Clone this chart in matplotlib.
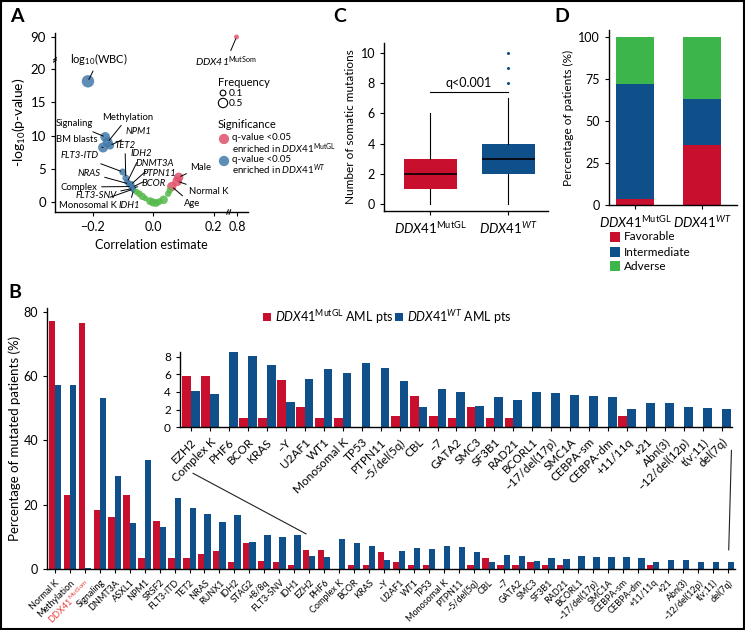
import matplotlib
matplotlib.use("Agg")
import matplotlib.pyplot as plt
from matplotlib.patches import Rectangle, ConnectionPatch
import numpy as np

plt.rcParams['font.family'] = ['Lato', 'DejaVu Sans']
plt.rcParams['mathtext.fontset'] = 'custom'
plt.rcParams['mathtext.rm'] = 'Lato'
plt.rcParams['mathtext.it'] = 'Lato:italic'
plt.rcParams['mathtext.bf'] = 'Lato:bold'
plt.rcParams['axes.linewidth'] = 1.0

RED = "#c8102e"
BLUE = "#10508a"
GREEN = "#3cb54a"
A_RED = "#e0506a"
A_BLUE = "#4379a9"
A_GREEN = "#55b94a"

GL = r"$\mathit{DDX41}^{\mathrm{MutGL}}$"
WT = r"$\mathit{DDX41}^{\mathit{WT}}$"

# ---- panel A data (correlation, -log10 p, frequency, group)
a_names = ["log$_{10}$(WBC)", "Signaling", "Methylation", "BM blasts", "NPM1",
           "FLT3-ITD", "TET2", "IDH2", "NRAS", "DNMT3A", "Complex", "PTPN11",
           "BCOR", "FLT3-SNV", "Monosomal K", "IDH1", "Male", "Normal K", "Age",
           "DDX41$^{\\mathrm{MutSom}}$",
           "", "", "", "", "", "", "", "", "", "", ""]
a_corr = [-0.215, -0.158, -0.150, -0.165, -0.142, -0.100, -0.090, -0.085, -0.080,
          -0.073, -0.072, -0.068, -0.066, -0.068, -0.066, -0.064, 0.085, 0.080,
          0.062, 0.78,
          -0.055, -0.045, -0.035, -0.025, -0.010, 0.0, 0.010, 0.020, 0.035, 0.050, 0.055]
a_logp = [18.2, 9.8, 9.0, 8.2, 8.5, 4.5, 3.6, 3.0, 2.7, 2.6, 2.3, 2.2, 2.1, 2.0,
          1.9, 1.8, 3.7, 3.1, 2.3, 90,
          1.5, 1.2, 0.8, 0.5, 0.1, -0.1, -0.2, 0.0, 0.3, 1.2, 1.7]
a_freq = [1.0, 0.55, 0.6, 0.6, 0.35, 0.22, 0.2, 0.15, 0.15, 0.25, 0.12, 0.05,
          0.08, 0.1, 0.06, 0.1, 0.5, 0.55, 0.5, 0.03,
          0.15, 0.2, 0.25, 0.1, 0.3, 0.35, 0.3, 0.2, 0.4, 0.15, 0.15]
a_group = ["wt"] * 16 + ["gl"] * 4 + ["ns"] * 11
a_italic = ["NPM1", "TET2", "IDH2", "FLT3-ITD", "DNMT3A", "NRAS", "PTPN11",
            "BCOR", "FLT3-SNV", "IDH1"]

# ---- panel B data
b_cats = ["Normal K", "Methylation", "DDX41$^{\\mathrm{MutSom}}$", "Signaling", "DNMT3A",
          "ASXL1", "NPM1", "SRSF2", "FLT3-ITD", "TET2", "NRAS", "RUNX1", "IDH2",
          "STAG2", "+8/8q", "FLT3-SNV", "IDH1", "EZH2", "PHF6", "Complex K", "BCOR",
          "KRAS", "–Y", "U2AF1", "WT1", "TP53", "Monosomal K", "PTPN11",
          "–5/del(5q)", "CBL", "–7", "GATA2", "SMC3", "SF3B1", "RAD21", "BCORL1",
          "–17/del(17p)", "SMC1A", "CEBPA-sm", "CEBPA-dm", "+11/11q", "+21",
          "Abn(3)", "–12/del(12p)", "t(v;11)", "del(7q)"]
gl_pct = [77.2, 23.1, 76.6, 18.4, 16.1, 23.1, 3.4, 15.0, 3.4, 3.4, 4.6, 5.7, 2.3,
          8.1, 2.6, 2.3, 1.1,
          5.85, 5.85, 0, 1.1, 1.1, 5.3, 2.3, 1.1, 1.1, 0, 0, 1.3, 3.5, 1.3, 1.1,
          2.3, 1.1, 1.1, 0, 0, 0, 0, 0, 1.3, 0, 0, 0, 0, 0]
wt_pct = [57.2, 57.2, 0.3, 53.3, 29.0, 14.3, 34.0, 13.0, 22.0, 19.0, 17.1, 14.7,
          16.8, 8.5, 10.6, 10.1, 10.6,
          4.1, 3.8, 9.4, 8.1, 7.1, 2.9, 5.5, 6.6, 6.1, 7.3, 6.7, 5.2, 2.3, 4.3,
          4.0, 2.4, 3.4, 3.1, 4.0, 3.85, 3.7, 3.6, 3.45, 2.1, 2.8, 2.75, 2.3,
          2.15, 2.1]
inset_start = 17
inset_labels = ["EZH2", "Complex K", "PHF6", "BCOR", "KRAS", "–Y", "U2AF1", "WT1",
                "Monosomal K", "TP53", "PTPN11", "–5/del(5q)", "CBL", "–7", "GATA2",
                "SMC3", "SF3B1", "RAD21", "BCORL1", "–17/del(17p)", "SMC1A",
                "CEBPA-sm", "CEBPA-dm", "+11/11q", "+21", "Abn(3)", "–12/del(12p)",
                "t(v;11)", "del(7q)"]

# ---- panel C data (box stats)
c_groups = [GL, WT]
c_q1 = [1, 2]
c_med = [2, 3]
c_q3 = [3, 4]
c_lo = [0, 0]
c_hi = [6, 7]
c_fliers = [[], [8, 9, 10, 11]]

# ---- panel D data
d_groups = [GL, WT]
d_favorable = [3.5, 35.5]
d_intermediate = [68.5, 27.5]
d_adverse = [28.0, 37.0]

W, H = 745, 630
fig = plt.figure(figsize=(7.45, 6.3), dpi=100)


def box(l, t, r, b):
    return [l / W, 1 - b / H, (r - l) / W, (b - t) / H]


# overlay in pixel coordinates for free text
ov = fig.add_axes([0, 0, 1, 1], zorder=10)
ov.set_xlim(0, W)
ov.set_ylim(H, 0)
ov.axis("off")


def fx(v):
    return v if v < 0.5 else 0.278 + (v - 0.8) * 0.1


def fy(v):
    return v if v < 30 else 24.9 + (v - 90) * 0.05


# ================= A
axA = fig.add_axes(box(55, 33, 248, 212))
cols = {"wt": A_BLUE, "gl": A_RED, "ns": A_GREEN}
xs = [fx(v) for v in a_corr]
ys = [fy(v) for v in a_logp]
sizes = [10 + 70 * f for f in a_freq]
axA.scatter(xs, ys, s=sizes, c=[cols[g] for g in a_group], alpha=0.85,
            edgecolors="none", zorder=3)
axA.set_xlim(-0.324, 0.314)
axA.set_ylim(-1.55, 25.5)
axA.set_xticks([fx(v) for v in [-0.2, 0.0, 0.2, 0.8]])
axA.set_xticklabels(["−0.2", "0.0", "0.2", "0.8"], fontsize=9)
axA.set_yticks([fy(v) for v in [0, 5, 10, 15, 20, 90]])
axA.set_yticklabels(["0", "5", "10", "15", "20", "90"], fontsize=9.5)
axA.spines["top"].set_visible(False)
axA.spines["right"].set_visible(False)
axA.tick_params(length=3)
axA.set_xlabel("Correlation estimate", fontsize=9, labelpad=4)
axA.set_ylabel("-log$_{10}$(p-value)", fontsize=10, labelpad=2)
# axis breaks
for d in (-0.006, 0.006):
    axA.plot([-0.007, 0.007], [0.85 + d - 0.006, 0.85 + d + 0.006],
             transform=axA.transAxes, color="black", lw=0.8, clip_on=False)
    axA.plot([0.90 + d - 0.004, 0.90 + d + 0.004], [-0.012, 0.012],
             transform=axA.transAxes, color="black", lw=0.8, clip_on=False)

a_text_pos = {
    "log$_{10}$(WBC)": (99, 59), "Signaling": (74, 124), "Methylation": (128, 117),
    "BM blasts": (77, 140), "NPM1": (138, 132), "FLT3-ITD": (80, 156),
    "TET2": (125, 145), "IDH2": (141, 154), "NRAS": (89, 173), "DNMT3A": (155, 163),
    "Complex": (79, 187), "PTPN11": (159, 174), "BCOR": (154, 183),
    "FLT3-SNV": (96, 196), "Monosomal K": (88, 205), "IDH1": (129, 206),
    "Male": (201, 167), "Normal K": (209, 192), "Age": (192, 204),
    "DDX41$^{\\mathrm{MutSom}}$": (226, 62),
}
for i, name in enumerate(a_names):
    if not name:
        continue
    tx, ty = a_text_pos[name]
    if name.startswith("log"):
        fs = 8
    elif name.startswith("DDX41"):
        fs = 7.5
    else:
        fs = 6.8
    style = "italic" if (name in a_italic or name.startswith("DDX41")) else "normal"
    axA.annotate(name, xy=(xs[i], ys[i]), xycoords="data", xytext=(tx, ty),
                 textcoords=ov.transData, ha="center", va="center", fontsize=fs,
                 fontstyle=style,
                 arrowprops=dict(arrowstyle="-", lw=0.7, color="black",
                                 shrinkA=1, shrinkB=1.5))

# legend A
ov.text(218, 83, "Frequency", fontsize=8, va="center")
ov.scatter([223, 223], [93, 103], s=[10 + 70 * 0.1, 10 + 70 * 0.5],
           facecolors="none", edgecolors="black", linewidths=0.8)
ov.text(229, 93, "0.1", fontsize=7.5, va="center")
ov.text(229, 103, "0.5", fontsize=7.5, va="center")
ov.text(218, 125, "Significance", fontsize=8, va="center")
ov.scatter([224, 224], [139, 161], s=55, c=[A_RED, A_BLUE], edgecolors="none", alpha=0.85)
ov.text(232, 138, "q-value <0.05", fontsize=7, va="center")
ov.text(232, 148.5, "enriched in " + GL, fontsize=7, va="center")
ov.text(232, 159.5, "q-value <0.05", fontsize=7, va="center")
ov.text(232, 170, "enriched in " + WT, fontsize=7, va="center")

# ================= C
axC = fig.add_axes(box(384, 43, 548, 211))
stats = []
for i in range(2):
    stats.append(dict(med=c_med[i], q1=c_q1[i], q3=c_q3[i], whislo=c_lo[i],
                      whishi=c_hi[i], fliers=c_fliers[i]))
bp = axC.bxp(stats, positions=[0, 1], widths=0.68, patch_artist=True,
             showcaps=False,
             boxprops=dict(lw=0),
             medianprops=dict(color="black", lw=1.2),
             whiskerprops=dict(color="black", lw=0.8),
             flierprops=dict(marker="o", markersize=2.2, markerfacecolor=BLUE,
                             markeredgecolor="none"))
for patch, col in zip(bp["boxes"], [RED, BLUE]):
    patch.set_facecolor(col)
axC.set_xlim(-0.59, 1.51)
axC.set_ylim(-0.46, 10.66)
axC.set_yticks([0, 2, 4, 6, 8, 10])
axC.set_xticks([0, 1])
axC.set_xticklabels(c_groups, fontsize=9.5)
axC.tick_params(axis="y", labelsize=9, length=3)
axC.tick_params(axis="x", length=3)
axC.spines["top"].set_visible(False)
axC.spines["right"].set_visible(False)
axC.set_ylabel("Number of somatic mutations", fontsize=8.5, labelpad=3)
axC.plot([0, 1], [7.4, 7.4], color="black", lw=0.8)
axC.text(0.5, 7.6, "q<0.001", ha="center", va="bottom", fontsize=9)

# ================= D
axD = fig.add_axes(box(609, 30, 737, 205))
xd = np.arange(len(d_groups))
fav = np.array(d_favorable)
inter = np.array(d_intermediate)
adv = np.array(d_adverse)
axD.bar(xd, fav, width=0.567, color=RED)
axD.bar(xd, inter, width=0.567, bottom=fav, color=BLUE)
axD.bar(xd, adv, width=0.567, bottom=fav + inter, color=GREEN)
axD.set_xlim(-0.39, 1.52)
axD.set_ylim(0, 104.2)
axD.set_yticks([0, 25, 50, 75, 100])
axD.set_xticks(xd)
axD.set_xticklabels(d_groups, fontsize=9.5)
axD.tick_params(axis="y", labelsize=9, length=3)
axD.tick_params(axis="x", length=3)
axD.spines["top"].set_visible(False)
axD.spines["right"].set_visible(False)
axD.set_ylabel("Percentage of patients (%)", fontsize=8.5, labelpad=3)
for yy, col, lab in [(237, RED, "Favorable"), (252, BLUE, "Intermediate"),
                     (266, GREEN, "Adverse")]:
    ov.scatter([615], [yy], marker="s", s=42, c=col, edgecolors="none")
    ov.text(624, yy, lab, fontsize=8.5, va="center")

# ================= B
axB = fig.add_axes(box(47, 308, 735, 569))
xb = np.arange(len(b_cats))
bw = 0.42
axB.bar(xb - bw / 2, gl_pct, width=bw, color=RED)
axB.bar(xb + bw / 2, wt_pct, width=bw, color=BLUE)
axB.set_xlim(-0.53, 45.47)
axB.set_ylim(0, 81.2)
axB.set_yticks([0, 20, 40, 60, 80])
axB.tick_params(axis="y", labelsize=9, length=3)
axB.tick_params(axis="x", length=3)
axB.set_xticks(xb)
axB.set_xticklabels(b_cats, rotation=45, ha="right", rotation_mode="anchor",
                    fontsize=6.5)
axB.get_xticklabels()[2].set_color("#e8403f")
axB.spines["top"].set_visible(False)
axB.spines["right"].set_visible(False)
axB.set_ylabel("Percentage of mutated patients (%)", fontsize=9.5, labelpad=2)

# inset
axI = fig.add_axes(box(180, 351.7, 732, 427.3))
xi = np.arange(len(inset_labels))
bwi = 0.46
axI.bar(xi - bwi / 2, gl_pct[inset_start:], width=bwi, color=RED)
axI.bar(xi + bwi / 2, wt_pct[inset_start:], width=bwi, color=BLUE)
axI.set_xlim(-0.58, 28.53)
axI.set_ylim(0, 8.56)
axI.set_yticks([0, 2, 4, 6, 8])
axI.set_xticks(xi)
axI.set_xticklabels(inset_labels, rotation=45, ha="right", rotation_mode="anchor",
                    fontsize=8.5)
axI.tick_params(axis="y", labelsize=8.5, length=3)
axI.tick_params(axis="x", length=3)
axI.spines["top"].set_visible(False)
axI.spines["right"].set_visible(False)
axI.patch.set_alpha(0)

for xyA, xyB in [((16.8, 10.9), (0.1, -5.2)), ((45.05, 5.9), (28.5, -2.6))]:
    con = ConnectionPatch(xyA=xyA, coordsA=axB.transData, xyB=xyB,
                          coordsB=axI.transData, color="#222222", lw=0.8)
    fig.add_artist(con)

# legend B
ov.scatter([267, 399], [317, 317], marker="s", s=32, c=[RED, BLUE], edgecolors="none")
ov.text(275, 317, GL + " AML pts", fontsize=9, va="center")
ov.text(407, 317, WT + " AML pts", fontsize=9, va="center")

# panel letters
for (px, py), letter in [((17, 16), "A"), ((340, 17), "C"), ((562, 17), "D"),
                         ((15, 293), "B")]:
    ov.text(px, py, letter, fontsize=14, fontweight="bold", ha="center", va="center")

fig.add_artist(Rectangle((0.001, 0.002), 0.997, 0.996, transform=fig.transFigure,
                         fill=False, lw=1.5, ec="black"))

fig.savefig("out.png", dpi=100)
